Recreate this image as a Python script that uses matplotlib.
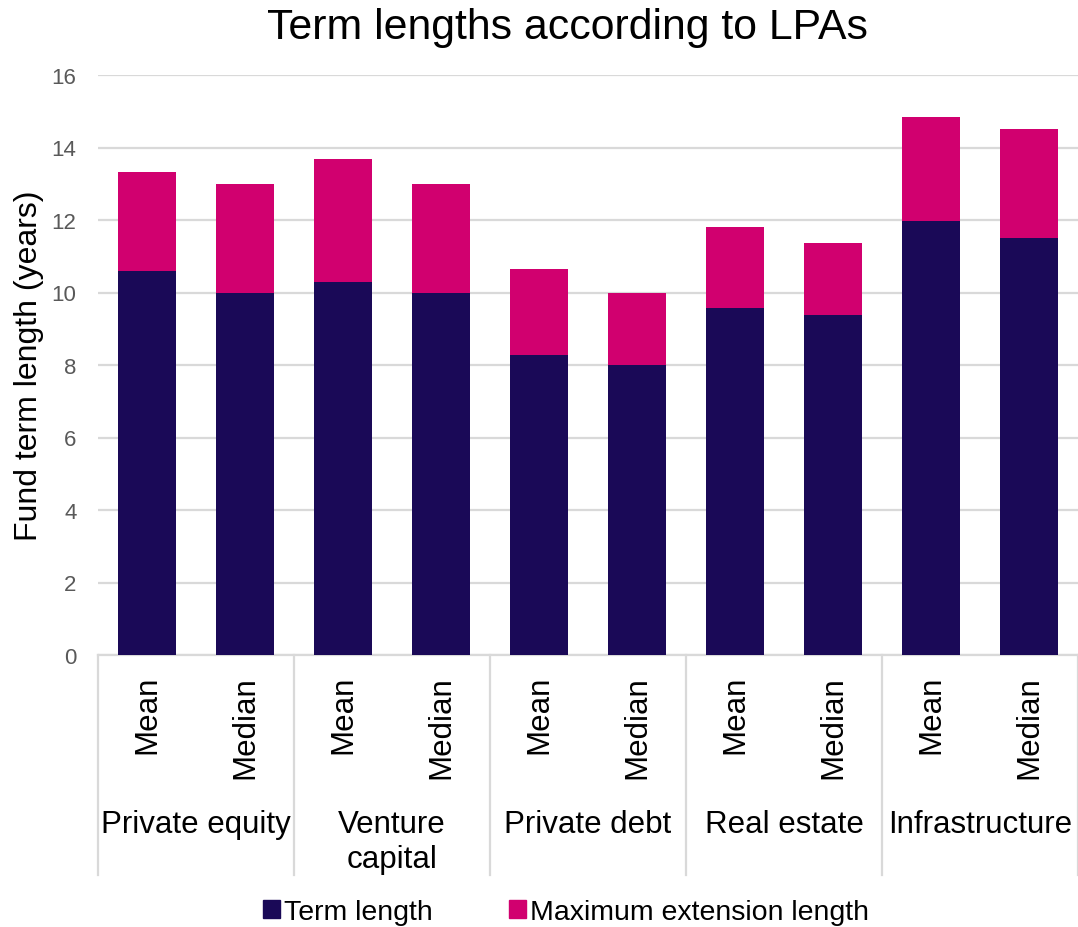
import matplotlib
matplotlib.use("Agg")
import matplotlib.pyplot as plt
from matplotlib.patches import Patch
from matplotlib.transforms import blended_transform_factory

plt.rcParams['font.family'] = ['Liberation Sans', 'DejaVu Sans']

groups = ["Private equity", "Venture\ncapital", "Private debt", "Real estate", "Infrastructure"]
stats = ["Mean", "Median"]
term_length = [10.6, 10.0, 10.3, 10.0, 8.27, 8.0, 9.57, 9.37, 11.96, 11.5]
total_length = [13.33, 13.0, 13.67, 13.0, 10.65, 10.0, 11.8, 11.37, 14.83, 14.5]
max_extension = [t - b for t, b in zip(total_length, term_length)]
yticks = [0, 2, 4, 6, 8, 10, 12, 14, 16]

navy = "#1A0957"
pink = "#D1006F"
grid = "#D9D9D9"

W, H = 1078, 928
fig = plt.figure(figsize=(W / 100, H / 100), dpi=100)
ax = fig.add_axes([98 / W, 1 - 656 / H, (1078 - 98) / W, (656 - 76) / H])

n = len(term_length)
x = list(range(n))
ax.bar(x, term_length, width=0.59, color=navy, zorder=3)
ax.bar(x, max_extension, bottom=term_length, width=0.59, color=pink, zorder=3)

ax.set_xlim(-0.5, n - 0.5)
ax.set_ylim(0, 16)
ax.set_yticks(yticks)
ax.set_yticklabels([str(v) for v in yticks], fontsize=16, color="#595959")
ax.tick_params(axis='y', length=0, pad=15.5)
ax.set_xticks([])
ax.yaxis.grid(True, color=grid, linewidth=1.6, zorder=0)
for s in ["top", "right", "left"]:
    ax.spines[s].set_visible(False)
ax.spines["bottom"].set_color(grid)
ax.spines["bottom"].set_linewidth(1.6)

ax.set_ylabel("Fund term length (years)", fontsize=23)
ax.yaxis.set_label_coords(-(98 - 44) / 980, 0.5)

ph = 656 - 76
tr = blended_transform_factory(ax.transData, ax.transAxes)
for i in range(n):
    ax.text(i, -(676 - 656) / ph, stats[i % 2], rotation=90, ha='center', va='top',
            fontsize=22.5, transform=tr)
for g, name in enumerate(groups):
    ax.text(2 * g + 0.5, -(810 - 656) / ph, name, ha='center', va='top',
            fontsize=22.5, transform=tr, linespacing=1.2)
for b in range(len(groups) + 1):
    ax.plot([2 * b - 0.5, 2 * b - 0.5], [0, -(876 - 656) / ph], color=grid,
            linewidth=1.6, transform=tr, clip_on=False)

fig.text(567 / W, 1 - 28 / H, "Term lengths according to LPAs", fontsize=30.8,
         ha='center', va='center')

handles = [Patch(color=navy, label="Term length"),
           Patch(color=pink, label="Maximum extension length")]
fig.legend(handles=handles, loc='center', ncol=2, frameon=False, fontsize=20.5,
           bbox_to_anchor=(566 / W, 1 - 913 / H), handlelength=0.6, handleheight=0.6,
           handletextpad=0.15, columnspacing=2.65)

fig.savefig("out.png", dpi=100)
